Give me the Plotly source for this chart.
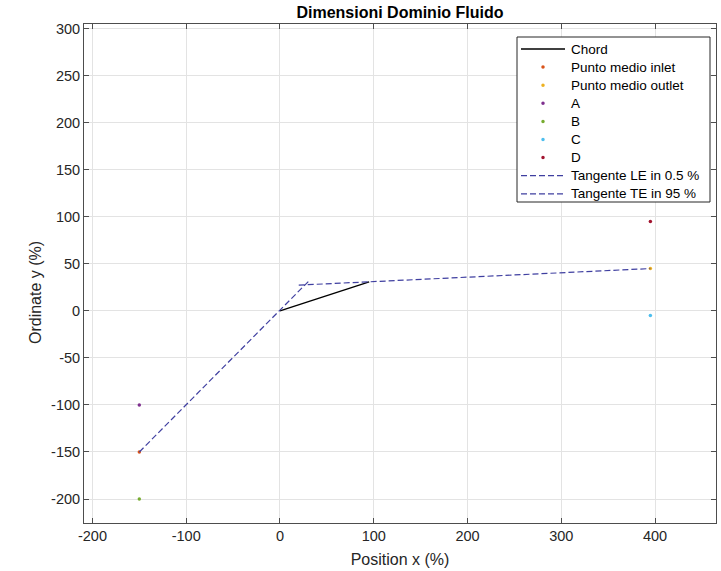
import plotly.graph_objects as go

# Chord of the profile (leading edge at origin)
chord_x = [0.0, 95.1]
chord_y = [0.0, 30.9]

# Mid points of inlet / outlet and domain corners
inlet_x, inlet_y = [-150.0], [-150.0]
outlet_x, outlet_y = [395.0], [45.0]
a_x, a_y = [-150.0], [-100.0]
b_x, b_y = [-150.0], [-200.0]
c_x, c_y = [395.0], [-5.0]
d_x, d_y = [395.0], [95.0]

# Tangent lines at leading and trailing edge
le_x = [-150.0, 32.0]
le_y = [-150.0, 33.0]
te_x = [20.0, 95.1, 395.0]
te_y = [27.4, 30.9, 45.0]

x_ticks = [-200, -100, 0, 100, 200, 300, 400]
y_ticks = [-200, -150, -100, -50, 0, 50, 100, 150, 200, 250, 300]

FONT = "Liberation Sans, Arial, sans-serif"
DASH_COLOR = "#3f3fa0"
DASH = "6px,3px"
MSIZE = 3.5

W, H = 721, 571
M_L, M_R, M_T, M_B = 84, 5, 24, 48
PW, PH = W - M_L - M_R, H - M_T - M_B


def px_x(p):
    return (p - M_L) / PW


def px_y(p):
    return (H - M_B - p) / PH


fig = go.Figure()
legend_items = []  # (kind, name, colour)

fig.add_trace(go.Scatter(x=chord_x, y=chord_y, mode="lines", name="Chord",
                         line=dict(color="black", width=1.4)))
legend_items.append(("line", "Chord", "black"))

points = [
    ("Punto medio inlet", inlet_x, inlet_y, "#D95319"),
    ("Punto medio outlet", outlet_x, outlet_y, "#EDB120"),
    ("A", a_x, a_y, "#7E2F8E"),
    ("B", b_x, b_y, "#77AC30"),
    ("C", c_x, c_y, "#4DBEEE"),
    ("D", d_x, d_y, "#A2142F"),
]
for name, xs, ys, col in points:
    fig.add_trace(go.Scatter(x=xs, y=ys, mode="markers", name=name,
                             marker=dict(color=col, size=MSIZE)))
    legend_items.append(("dot", name, col))

for name, xs, ys in [("Tangente LE in 0.5 %", le_x, le_y),
                     ("Tangente TE in 95 %", te_x, te_y)]:
    fig.add_trace(go.Scatter(x=xs, y=ys, mode="lines", name=name,
                             line=dict(color=DASH_COLOR, width=1.2, dash=DASH)))
    legend_items.append(("dash", name, DASH_COLOR))

# Legend box drawn inside the axes (north-east corner)
shapes = [dict(type="rect", xref="paper", yref="paper", layer="above",
               x0=px_x(517), x1=px_x(710), y0=px_y(37), y1=px_y(202),
               line=dict(color="#262626", width=1), fillcolor="white")]
annotations = []
for i, (kind, name, col) in enumerate(legend_items):
    yc = 49 + i * 18.1
    if kind == "dot":
        r = MSIZE / 2
        shapes.append(dict(type="circle", xref="paper", yref="paper", layer="above",
                           x0=px_x(543 - r), x1=px_x(543 + r),
                           y0=px_y(yc + r), y1=px_y(yc - r),
                           line=dict(width=0), fillcolor=col))
    else:
        shapes.append(dict(type="line", xref="paper", yref="paper", layer="above",
                           x0=px_x(521), x1=px_x(565), y0=px_y(yc), y1=px_y(yc),
                           line=dict(color=col, width=1.4 if kind == "line" else 1.2,
                                     dash="solid" if kind == "line" else DASH)))
    annotations.append(dict(text=name, xref="paper", yref="paper",
                            x=px_x(569), y=px_y(yc), xanchor="left", yanchor="middle",
                            showarrow=False,
                            font=dict(family=FONT, size=13.5, color="black")))

# y-axis label
annotations.append(dict(text="Ordinate y (%)", xref="paper", yref="paper",
                        x=px_x(35), y=px_y(293), xanchor="center", yanchor="middle",
                        textangle=-90, showarrow=False,
                        font=dict(family=FONT, size=16, color="#262626")))


def hyphen_labels(vals):
    return [str(v) for v in vals]


axis_common = dict(
    showgrid=True, gridcolor="#e3e3e3", gridwidth=1,
    zeroline=False, showline=True, linecolor="#4d4d4d", linewidth=1,
    mirror="ticks", ticks="inside", ticklen=5, tickcolor="#4d4d4d",
    tickfont=dict(family=FONT, size=14.5, color="#262626"),
)

fig.update_layout(
    width=W, height=H,
    margin=dict(l=M_L, r=M_R, t=M_T, b=M_B),
    paper_bgcolor="white", plot_bgcolor="white",
    title=dict(text="<b>Dimensioni Dominio Fluido</b>", x=400 / W, xanchor="center",
               y=1 - 12 / H, yanchor="middle",
               font=dict(family=FONT, size=16, color="black")),
    xaxis=dict(axis_common, range=[-209, 465], tickvals=x_ticks,
               ticktext=hyphen_labels(x_ticks),
               title=dict(text="Position x (%)", standoff=10,
                          font=dict(family=FONT, size=16, color="#262626"))),
    yaxis=dict(axis_common, range=[-225.5, 305], tickvals=y_ticks,
               ticktext=hyphen_labels(y_ticks)),
    shapes=shapes,
    annotations=annotations,
    showlegend=False,
)

fig.write_html("out.html")
